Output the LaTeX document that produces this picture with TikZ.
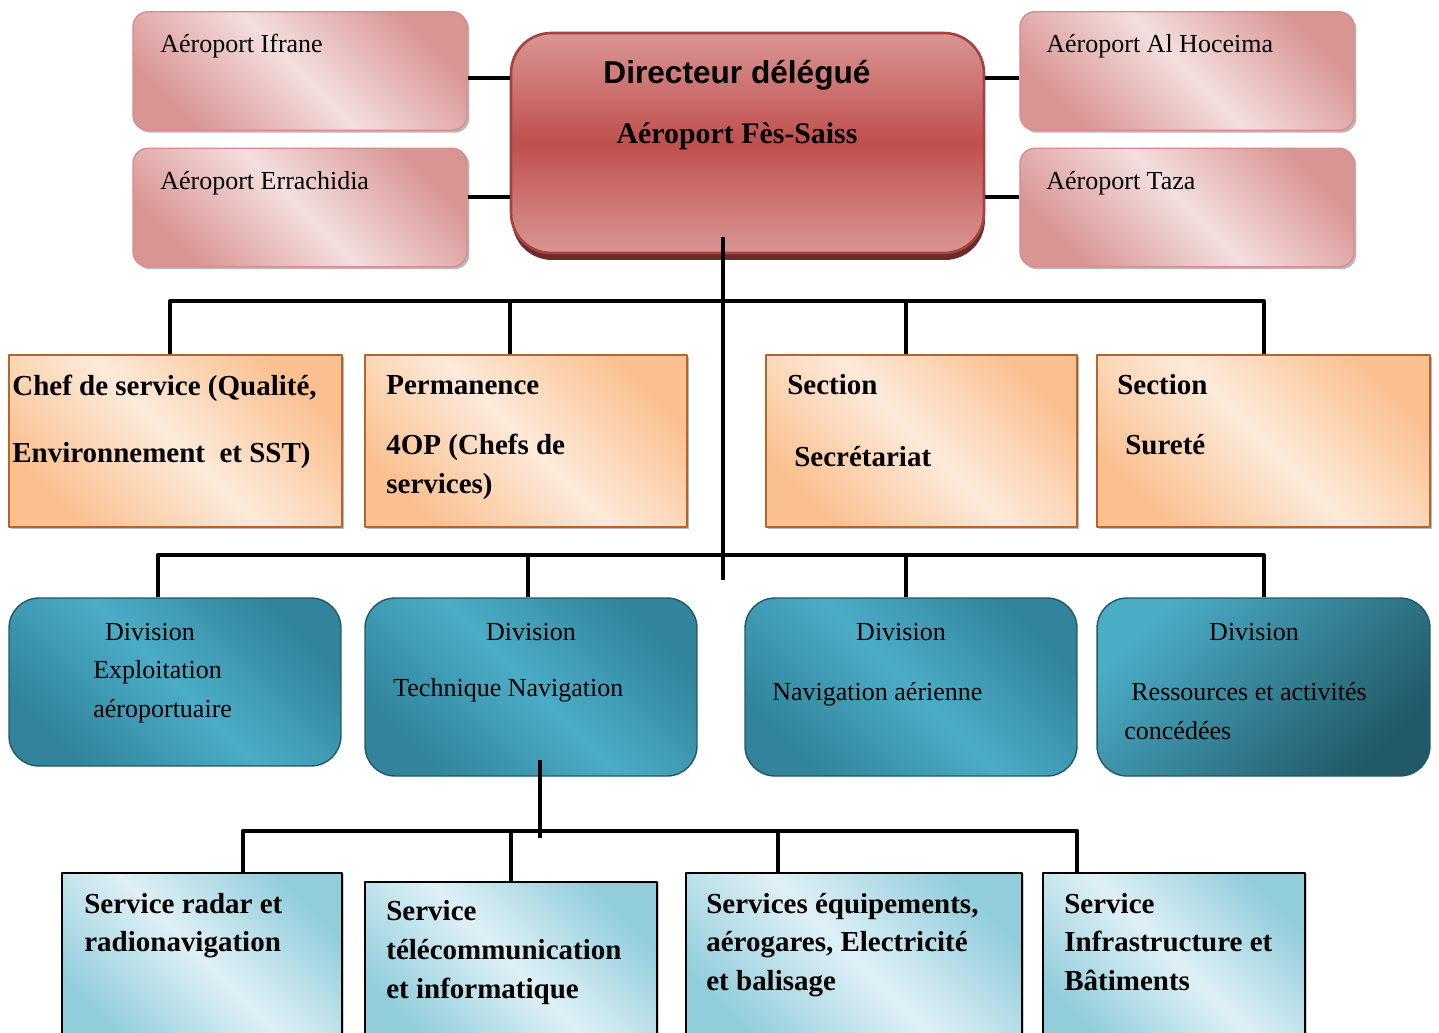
\documentclass[tikz,border=0pt]{standalone}
\usepackage{fontspec}
\setmainfont{Liberation Serif}
\newfontfamily\arialfont{Liberation Sans}
\usetikzlibrary{shadows}
\definecolor{pinkdark}{HTML}{D99594}
\definecolor{pinklight}{HTML}{F4DEDE}
\definecolor{pinkedge}{HTML}{D88C8C}
\definecolor{reddir}{HTML}{C0504D}
\definecolor{redshadow}{HTML}{6E2A28}
\definecolor{orangedark}{HTML}{FAC090}
\definecolor{orangelight}{HTML}{FDEADA}
\definecolor{orangeedge}{HTML}{B5652A}
\definecolor{tealdark}{HTML}{31849B}
\definecolor{teallight}{HTML}{4BACC6}
\definecolor{tealdeep}{HTML}{215968}
\definecolor{bluedark}{HTML}{92CDDC}
\definecolor{bluelight}{HTML}{DFF0F5}

\begin{document}
\begin{tikzpicture}[x=0.02cm,y=-0.02cm,line join=round]
\tikzstyle{link}=[line width=2.3pt]
\tikzstyle{airport}=[rectangle,rounded corners=0.3cm,draw=pinkedge,line width=0.8pt,top color=pinkdark,bottom color=pinkdark,middle color=pinklight,shading angle=-45,drop shadow={shadow xshift=0.05cm,shadow yshift=-0.05cm,fill=gray!70,opacity=0.8},minimum width=6.68cm,minimum height=2.37cm]
\tikzstyle{head}=[rectangle,rounded corners=0.8cm,draw=reddir!85!black,line width=1.5pt,top color=pinkdark,bottom color=pinkdark,middle color=reddir,drop shadow={shadow xshift=0.02cm,shadow yshift=-0.14cm,fill=redshadow,opacity=1},minimum width=9.46cm,minimum height=4.4cm]
\tikzstyle{staff}=[rectangle,draw=orangeedge,line width=1.5pt,top color=orangedark,bottom color=orangedark,middle color=orangelight,shading angle=-45,drop shadow={shadow xshift=0.04cm,shadow yshift=-0.04cm,fill=gray!70,opacity=0.8},minimum height=3.44cm]
\tikzstyle{division}=[rectangle,rounded corners=0.6cm,draw=tealdeep,line width=0.8pt,top color=tealdark,bottom color=tealdark,middle color=teallight,shading angle=-45,minimum width=6.64cm,minimum height=3.56cm]
\tikzstyle{service}=[rectangle,draw=black,line width=1.5pt,top color=bluedark,bottom color=bluedark,middle color=bluelight,shading angle=-45,drop shadow={shadow xshift=0.04cm,shadow yshift=-0.02cm,fill=gray!60,opacity=0.6},minimum height=3.44cm]
\tikzstyle{txt}=[inner sep=0pt,anchor=base west,font=\fontsize{14.8}{18}\selectfont]
\tikzstyle{btxt}=[txt,font=\fontsize{16.5}{20}\selectfont\bfseries]

\useasboundingbox (0,0) rectangle (1439,1032);
\clip (0,0) rectangle (1439,1032);

% airports and direction
\node[airport] (ifrane) at (300,71) {};
\node[airport] (errachidia) at (300,207.5) {};
\node[airport] (alhoceima) at (1187,71) {};
\node[airport] (taza) at (1187,207.5) {};
\node[head] (director) at (747.5,143) {};

\node[txt] (ifranetxt) at (160,52) {Aéroport Ifrane};
\node[txt] (errachidiatxt) at (160,189) {Aéroport Errachidia};
\node[txt] (alhoceimatxt) at (1046,52) {Aéroport Al Hoceima};
\node[txt] (tazatxt) at (1046,189) {Aéroport Taza};
\node[inner sep=0pt,anchor=base,font=\arialfont\bfseries\fontsize{18}{22}\selectfont] (dirtitle) at (737,83) {Directeur délégué};
\node[inner sep=0pt,anchor=base,font=\bfseries\fontsize{17}{20}\selectfont] (dirsub) at (737,143) {Aéroport Fès-Saiss};

\draw[link] (ifrane.east |- 0,78) -- (director.west |- 0,78);
\draw[link] (errachidia.east |- 0,197) -- (director.west |- 0,197);
\draw[link] (director.east |- 0,78) -- (alhoceima.west |- 0,78);
\draw[link] (director.east |- 0,197) -- (taza.west |- 0,197);

% staff units
\node[staff,minimum width=6.66cm] (quality) at (175.5,441) {};
\node[staff,minimum width=6.44cm] (perm) at (526,441) {};
\node[staff,minimum width=6.22cm] (secretariat) at (921.5,441) {};
\node[staff,minimum width=6.66cm] (surete) at (1263.5,441) {};

\node[btxt] (qualityA) at (12,395) {Chef de service (Qualité,};
\node[btxt] (qualityB) at (12,462) {Environnement\ \ et SST)};
\node[btxt] (permA) at (386,394) {Permanence};
\node[btxt] (permB) at (386,454) {4OP (Chefs de};
\node[btxt] (permC) at (386,493) {services)};
\node[btxt] (secretariatA) at (787,394) {Section};
\node[btxt] (secretariatB) at (794,466) {Secrétariat};
\node[btxt] (sureteA) at (1117,394) {Section};
\node[btxt] (sureteB) at (1125,454) {Sureté};

% divisions
\node[division,minimum height=3.36cm] (exploit) at (175,682) {};
\node[division] (technique) at (531,687) {};
\node[division] (navigation) at (911,687) {};
\node[division,minimum width=6.66cm,top color=teallight,bottom color=tealdeep,shading angle=45] (ressources) at (1263.5,687) {};

\node[txt,anchor=base] (exploitA) at (150,640) {Division};
\node[txt] (exploitB) at (93,678) {Exploitation};
\node[txt] (exploitC) at (93,717) {aéroportuaire};
\node[txt,anchor=base] (techniqueA) at (531,640) {Division};
\node[txt] (techniqueB) at (393,696) {Technique Navigation};
\node[txt,anchor=base] (navigationA) at (901,640) {Division};
\node[txt] (navigationB) at (772,700) {Navigation aérienne};
\node[txt,anchor=base] (ressourcesA) at (1254,640) {Division};
\node[txt] (ressourcesB) at (1131,700) {Ressources et activités};
\node[txt] (ressourcesC) at (1124,739) {concédées};

% services of the technical division
\node[service,minimum width=5.6cm] (radar) at (202,959) {};
\node[service,minimum width=5.84cm,minimum height=3.26cm] (telecom) at (511,963.5) {};
\node[service,minimum width=6.72cm] (equip) at (854,959) {};
\node[service,minimum width=5.24cm] (infra) at (1174,959) {};

\node[btxt] (radarA) at (84,913) {Service radar et};
\node[btxt] (radarB) at (84,951) {radionavigation};
\node[btxt] (telecomA) at (386,920) {Service};
\node[btxt] (telecomB) at (386,959) {télécommunication};
\node[btxt] (telecomC) at (386,998) {et informatique};
\node[btxt] (equipA) at (706,913) {Services équipements,};
\node[btxt] (equipB) at (706,951) {aérogares, Electricité};
\node[btxt] (equipC) at (706,990) {et balisage};
\node[btxt] (infraA) at (1064,913) {Service};
\node[btxt] (infraB) at (1064,951) {Infrastructure et};
\node[btxt] (infraC) at (1064,990) {Bâtiments};

% tree
\coordinate (dirfoot) at (723,237);
\coordinate (bus1) at (723,301);
\coordinate (bus2) at (723,555);
\coordinate (trunkend) at (723,580);
\draw[link] (dirfoot) -- (trunkend);
\draw[link] ([xshift=-0.11cm]quality.north) |- (bus1) -| (surete.north);
\draw[link] ([xshift=-0.32cm]perm.north) -- ([xshift=-0.32cm]perm.north |- bus1);
\draw[link] ([xshift=-0.31cm]secretariat.north) -- ([xshift=-0.31cm]secretariat.north |- bus1);
\draw[link] ([xshift=-0.34cm]exploit.north) |- (bus2) -| (ressources.north);
\draw[link] ([xshift=-0.06cm]technique.north) -- ([xshift=-0.06cm]technique.north |- bus2);
\draw[link] ([xshift=-0.1cm]navigation.north) -- ([xshift=-0.1cm]navigation.north |- bus2);

\coordinate (techfoot) at (540,760);
\coordinate (bus3) at (540,831);
\coordinate (techend) at (540,838);
\draw[link] (techfoot) -- (techend);
\draw[link] ([xshift=0.82cm]radar.north) |- (bus3) -| ([xshift=-1.94cm]infra.north);
\draw[link] (telecom.north) -- (telecom.north |- bus3);
\draw[link] ([xshift=-1.52cm]equip.north) -- ([xshift=-1.52cm]equip.north |- bus3);
\end{tikzpicture}
\end{document}
